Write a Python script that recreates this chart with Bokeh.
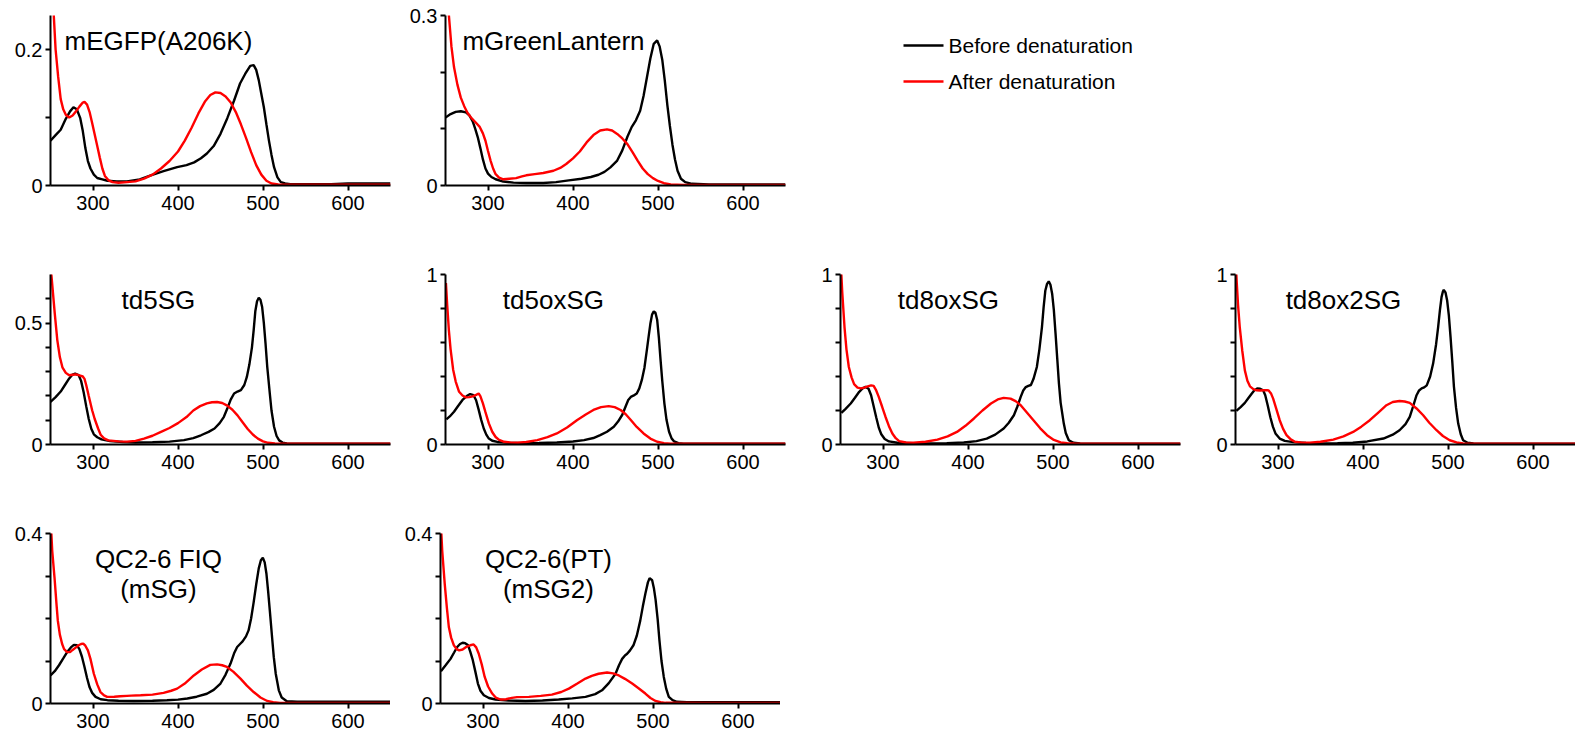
from bokeh.plotting import figure
from bokeh.layouts import row, column
from bokeh.models import Range1d, FixedTicker, Label
from bokeh.embed import file_html
from bokeh.resources import INLINE
from bokeh.core.properties import value

FONT = "Liberation Sans"
BLACK = "#000000"
RED = "#ff0000"

x_ticks = [300, 400, 500, 600]
legend_labels = ["Before denaturation", "After denaturation"]

# ---------------- mEGFP(A206K) ----------------
megfp_before_nm = [250, 256, 262, 268, 273, 277, 281, 285, 288, 291, 294, 297, 301, 305, 311, 317, 328, 340, 355, 368, 383, 399, 410, 419, 427, 434, 442, 450, 458, 466, 473, 479, 485, 489, 492, 495, 498, 501, 504, 507, 510, 513, 517, 521, 526, 532, 545, 560, 580, 600, 615, 630, 650]
megfp_before_abs = [0.066, 0.074, 0.082, 0.098, 0.109, 0.115, 0.112, 0.099, 0.080, 0.055, 0.036, 0.025, 0.016, 0.011, 0.009, 0.007, 0.006, 0.006, 0.009, 0.015, 0.021, 0.027, 0.030, 0.034, 0.040, 0.047, 0.058, 0.076, 0.099, 0.125, 0.150, 0.164, 0.176, 0.177, 0.170, 0.155, 0.135, 0.115, 0.090, 0.066, 0.045, 0.027, 0.012, 0.005, 0.003, 0.002, 0.002, 0.002, 0.002, 0.003, 0.003, 0.003, 0.003]
megfp_after_nm = [250, 253, 256, 259, 262, 265, 268, 272, 276, 280, 284, 288, 290, 293, 296, 299, 302, 305, 308, 311, 314, 318, 323, 330, 340, 350, 360, 370, 380, 390, 400, 408, 416, 424, 432, 438, 444, 450, 456, 462, 468, 474, 480, 486, 492, 498, 504, 510, 518, 530, 560, 600, 650]
megfp_after_abs = [0.40, 0.27, 0.20, 0.160, 0.127, 0.112, 0.104, 0.100, 0.103, 0.109, 0.116, 0.122, 0.123, 0.119, 0.108, 0.092, 0.075, 0.058, 0.041, 0.025, 0.014, 0.008, 0.005, 0.004, 0.005, 0.006, 0.010, 0.016, 0.025, 0.036, 0.050, 0.066, 0.085, 0.106, 0.124, 0.133, 0.137, 0.136, 0.131, 0.122, 0.108, 0.090, 0.070, 0.049, 0.030, 0.016, 0.007, 0.003, 0.0015, 0.001, 0.001, 0.001, 0.001]

# ---------------- mGreenLantern ----------------
mgl_before_nm = [250, 256, 262, 268, 274, 278, 282, 285, 288, 291, 294, 297, 300, 304, 309, 318, 330, 345, 365, 380, 395, 410, 421, 430, 437, 444, 452, 458, 464, 469, 474, 479, 483, 487, 491, 495, 499, 502, 505, 508, 511, 514, 517, 520, 523, 527, 532, 540, 560, 600, 650]
mgl_before_abs = [0.120, 0.126, 0.130, 0.131, 0.129, 0.124, 0.113, 0.100, 0.085, 0.066, 0.046, 0.030, 0.021, 0.015, 0.011, 0.007, 0.005, 0.0045, 0.0045, 0.006, 0.009, 0.012, 0.015, 0.019, 0.024, 0.032, 0.044, 0.062, 0.086, 0.103, 0.115, 0.132, 0.158, 0.191, 0.224, 0.250, 0.256, 0.245, 0.222, 0.185, 0.142, 0.105, 0.072, 0.046, 0.026, 0.012, 0.006, 0.003, 0.002, 0.002, 0.002]
mgl_after_nm = [251, 254, 257, 260, 264, 268, 272, 276, 280, 285, 290, 294, 297, 300, 303, 306, 309, 313, 318, 325, 333, 340, 345, 355, 365, 377, 385, 392, 400, 408, 416, 424, 432, 440, 446, 452, 458, 464, 470, 476, 482, 488, 494, 500, 507, 515, 530, 560, 600, 650]
mgl_after_abs = [0.42, 0.300, 0.245, 0.209, 0.178, 0.155, 0.140, 0.128, 0.120, 0.112, 0.104, 0.092, 0.079, 0.061, 0.044, 0.030, 0.020, 0.014, 0.011, 0.012, 0.013, 0.016, 0.018, 0.020, 0.022, 0.026, 0.031, 0.038, 0.048, 0.060, 0.076, 0.089, 0.097, 0.099, 0.097, 0.091, 0.083, 0.073, 0.059, 0.044, 0.030, 0.020, 0.013, 0.008, 0.004, 0.002, 0.001, 0.001, 0.001, 0.001]

# ---------------- td5SG ----------------
td5_before_nm = [250, 256, 262, 267, 272, 276, 279, 283, 286, 289, 292, 295, 298, 301, 305, 310, 320, 335, 350, 370, 390, 407, 418, 427, 436, 443, 449, 454, 458, 462, 466, 470, 474, 478, 481, 484, 487, 489, 491, 493, 495, 497, 499, 501, 503, 505, 508, 510, 513, 516, 519, 523, 528, 540, 560, 600, 650]
td5_before_abs = [0.175, 0.195, 0.218, 0.245, 0.272, 0.288, 0.292, 0.286, 0.262, 0.215, 0.158, 0.105, 0.065, 0.042, 0.030, 0.021, 0.014, 0.010, 0.008, 0.009, 0.012, 0.018, 0.026, 0.038, 0.052, 0.066, 0.088, 0.114, 0.148, 0.185, 0.210, 0.218, 0.224, 0.245, 0.278, 0.330, 0.400, 0.470, 0.550, 0.590, 0.604, 0.596, 0.566, 0.500, 0.415, 0.320, 0.210, 0.140, 0.073, 0.035, 0.017, 0.008, 0.004, 0.003, 0.003, 0.003, 0.003]
td5_after_nm = [250.5, 253, 255, 258, 261, 264, 268, 272, 276, 280, 284, 288, 290, 292, 295, 299, 302, 306, 309, 313, 318, 330, 340, 350, 360, 370, 380, 390, 400, 410, 418, 426, 434, 440, 446, 452, 458, 464, 470, 476, 482, 488, 494, 500, 506, 514, 530, 560, 600, 650]
td5_after_abs = [0.72, 0.62, 0.54, 0.43, 0.36, 0.318, 0.295, 0.285, 0.287, 0.289, 0.285, 0.280, 0.270, 0.245, 0.200, 0.141, 0.105, 0.066, 0.040, 0.025, 0.017, 0.013, 0.012, 0.015, 0.024, 0.036, 0.052, 0.068, 0.088, 0.113, 0.140, 0.158, 0.169, 0.174, 0.175, 0.171, 0.160, 0.143, 0.120, 0.092, 0.064, 0.041, 0.024, 0.013, 0.007, 0.004, 0.003, 0.003, 0.003, 0.003]

# ---------------- td5oxSG ----------------
td5ox_before_nm = [251, 255, 260, 265, 270, 275, 279, 283, 286, 289, 292, 295, 298, 301, 305, 311, 325, 342, 360, 381, 400, 413, 424, 432, 440, 448, 453, 458, 462, 465, 468, 471, 475, 478, 481, 484, 487, 489, 491, 493, 495, 497, 499, 501, 503, 505, 507.5, 510, 513, 516, 519, 524, 530, 550, 600, 650]
td5ox_before_abs = [0.148, 0.165, 0.193, 0.228, 0.262, 0.285, 0.297, 0.290, 0.260, 0.205, 0.145, 0.094, 0.058, 0.035, 0.022, 0.015, 0.010, 0.008, 0.009, 0.012, 0.018, 0.026, 0.038, 0.055, 0.075, 0.104, 0.135, 0.175, 0.225, 0.262, 0.280, 0.287, 0.300, 0.330, 0.380, 0.450, 0.560, 0.636, 0.710, 0.764, 0.783, 0.775, 0.734, 0.630, 0.498, 0.375, 0.242, 0.145, 0.075, 0.036, 0.018, 0.008, 0.005, 0.004, 0.004, 0.004]
td5ox_after_nm = [250.5, 252, 254, 256, 259, 262, 266, 270, 274, 278, 282, 286, 289, 291, 294, 297, 301, 305, 309, 313, 319, 327, 335, 345, 358, 370, 381, 393, 405, 415, 424, 433, 442, 449, 456, 462, 468, 475, 483, 491, 499, 507, 515, 530, 560, 600, 650]
td5ox_after_abs = [0.95, 0.82, 0.67, 0.56, 0.44, 0.37, 0.31, 0.288, 0.277, 0.279, 0.283, 0.292, 0.300, 0.285, 0.242, 0.190, 0.124, 0.075, 0.044, 0.027, 0.016, 0.011, 0.010, 0.015, 0.026, 0.043, 0.065, 0.100, 0.144, 0.176, 0.203, 0.220, 0.226, 0.220, 0.203, 0.178, 0.144, 0.103, 0.065, 0.035, 0.016, 0.008, 0.005, 0.004, 0.004, 0.004, 0.004]

# ---------------- td8oxSG ----------------
td8ox_before_nm = [251, 256, 262, 267, 272, 276, 279.5, 283, 286, 289, 292, 295, 298, 302, 307, 317, 335, 356, 375, 395, 410, 422, 432, 442, 448, 454, 458, 462, 465, 468, 471, 474, 477, 481, 484, 487, 489, 491, 493, 495, 497, 499, 501, 503, 505, 507, 509, 512.7, 515, 518.6, 524, 532, 550, 600, 650]
td8ox_before_abs = [0.186, 0.210, 0.241, 0.275, 0.310, 0.330, 0.339, 0.328, 0.290, 0.225, 0.160, 0.100, 0.060, 0.032, 0.018, 0.010, 0.007, 0.006, 0.008, 0.012, 0.020, 0.035, 0.058, 0.094, 0.128, 0.172, 0.222, 0.280, 0.318, 0.338, 0.345, 0.350, 0.385, 0.456, 0.560, 0.691, 0.810, 0.906, 0.945, 0.960, 0.940, 0.887, 0.790, 0.652, 0.505, 0.358, 0.245, 0.123, 0.068, 0.025, 0.010, 0.006, 0.004, 0.004, 0.004]
td8ox_after_nm = [250.5, 252, 254.7, 257, 259.8, 263, 266, 270, 274, 278, 282, 286, 289, 292, 295, 299, 303, 307, 311, 315, 319, 327, 336, 350, 364, 376, 387, 397, 407, 417, 427, 435, 442, 450, 456, 462, 469, 477, 485, 493, 501, 509, 517, 525, 560, 600, 650]
td8ox_after_abs = [1.05, 0.90, 0.691, 0.56, 0.456, 0.395, 0.355, 0.335, 0.330, 0.335, 0.342, 0.348, 0.345, 0.318, 0.280, 0.222, 0.162, 0.108, 0.065, 0.037, 0.020, 0.012, 0.010, 0.016, 0.029, 0.048, 0.074, 0.110, 0.153, 0.200, 0.241, 0.265, 0.274, 0.270, 0.255, 0.231, 0.190, 0.143, 0.095, 0.055, 0.027, 0.012, 0.007, 0.006, 0.004, 0.004, 0.004]

# ---------------- td8ox2SG ----------------
td8ox2_before_nm = [251, 256, 261, 265, 269, 272, 275.5, 279, 282.5, 285, 288, 291, 294, 297, 302, 308, 318, 333, 349, 370, 388, 405, 424, 435, 443, 450, 455, 459, 463, 466, 469, 472, 475, 479, 482.5, 486, 488.4, 490.5, 492.4, 494, 495, 497, 499, 501, 503, 505, 507, 509.5, 512, 515, 517.8, 523, 530, 550, 600, 650]
td8ox2_before_abs = [0.198, 0.220, 0.245, 0.272, 0.299, 0.318, 0.329, 0.328, 0.319, 0.290, 0.228, 0.160, 0.105, 0.065, 0.035, 0.021, 0.014, 0.009, 0.006, 0.008, 0.010, 0.018, 0.035, 0.058, 0.084, 0.120, 0.162, 0.225, 0.290, 0.318, 0.330, 0.336, 0.348, 0.400, 0.476, 0.590, 0.691, 0.790, 0.867, 0.900, 0.910, 0.895, 0.847, 0.760, 0.632, 0.490, 0.339, 0.215, 0.123, 0.060, 0.025, 0.010, 0.006, 0.004, 0.004, 0.004]
td8ox2_after_nm = [250.5, 251.5, 253, 255, 258, 261, 264, 267, 271, 275, 279, 283, 287, 289, 292, 294.3, 298, 302, 306, 310, 315, 320, 328, 337.5, 350, 365, 377, 388.4, 398, 408, 418, 427.6, 435, 443, 449, 455, 463, 470.8, 478, 486.5, 494, 502, 510, 517.8, 530, 560, 600, 650]
td8ox2_after_abs = [1.05, 0.95, 0.82, 0.691, 0.55, 0.436, 0.375, 0.342, 0.326, 0.319, 0.318, 0.319, 0.320, 0.318, 0.298, 0.270, 0.210, 0.143, 0.092, 0.055, 0.030, 0.016, 0.011, 0.010, 0.016, 0.029, 0.048, 0.074, 0.105, 0.143, 0.188, 0.231, 0.250, 0.256, 0.253, 0.245, 0.212, 0.172, 0.128, 0.084, 0.050, 0.025, 0.012, 0.006, 0.005, 0.004, 0.004, 0.004]

# ---------------- QC2-6 FIQ (mSG) ----------------
msg_before_nm = [250, 255, 260, 265, 269.6, 274, 277.5, 281, 284, 287, 290, 293, 296, 299, 303, 309, 317, 330, 348, 370, 387, 400, 411, 422, 434, 442, 450, 456, 461.8, 466, 469.6, 473, 476, 480, 483, 486, 489, 492, 495, 497.5, 499.8, 502, 504, 506, 508, 510.5, 512.7, 515, 518.6, 522, 528, 540, 560, 600, 650]
msg_before_abs = [0.066, 0.076, 0.090, 0.106, 0.121, 0.132, 0.138, 0.137, 0.128, 0.110, 0.086, 0.060, 0.038, 0.025, 0.0156, 0.010, 0.0078, 0.0065, 0.006, 0.0065, 0.0078, 0.009, 0.0117, 0.016, 0.023, 0.032, 0.047, 0.068, 0.094, 0.118, 0.133, 0.140, 0.146, 0.158, 0.172, 0.200, 0.238, 0.280, 0.318, 0.337, 0.343, 0.332, 0.306, 0.265, 0.219, 0.160, 0.109, 0.070, 0.031, 0.014, 0.0055, 0.004, 0.004, 0.004, 0.004]
msg_after_nm = [250.5, 252, 254.7, 257, 258.6, 261, 263.7, 266, 269.6, 273, 276, 280, 283, 286, 288.5, 291, 294, 297, 301, 305, 308.8, 313, 316.7, 325, 332, 340, 345, 356, 370, 383, 392, 399, 408, 418.6, 428, 438, 446, 452, 457.6, 465, 473.5, 481, 489, 497, 505, 512, 520, 560, 600, 650]
msg_after_abs = [0.42, 0.36, 0.297, 0.235, 0.195, 0.162, 0.140, 0.128, 0.121, 0.121, 0.126, 0.132, 0.137, 0.140, 0.141, 0.136, 0.125, 0.105, 0.070, 0.045, 0.027, 0.019, 0.0156, 0.016, 0.017, 0.018, 0.0185, 0.0195, 0.021, 0.025, 0.030, 0.035, 0.047, 0.066, 0.080, 0.091, 0.092, 0.090, 0.086, 0.075, 0.0586, 0.042, 0.027, 0.014, 0.006, 0.003, 0.0015, 0.0015, 0.0015, 0.0015]

# ---------------- QC2-6(PT) (mSG2) ----------------
msg2_before_nm = [250.5, 256, 261.8, 266, 269.6, 273, 276, 279, 282.5, 285, 288, 291, 294, 297, 301, 307, 314.7, 330, 350, 370, 389, 405, 420.6, 432, 440, 448, 455.9, 460, 463.7, 467, 469.6, 473, 477, 481, 485, 488, 491, 494, 496, 499, 501, 503, 505.5, 507.6, 510, 512.7, 515.5, 518.6, 523, 528, 540, 600, 650]
msg2_before_abs = [0.076, 0.090, 0.105, 0.120, 0.133, 0.140, 0.143, 0.142, 0.137, 0.122, 0.102, 0.075, 0.047, 0.030, 0.0195, 0.013, 0.0094, 0.007, 0.006, 0.007, 0.0094, 0.012, 0.0156, 0.022, 0.031, 0.048, 0.070, 0.090, 0.105, 0.113, 0.117, 0.125, 0.137, 0.160, 0.195, 0.228, 0.258, 0.285, 0.295, 0.290, 0.272, 0.245, 0.198, 0.148, 0.100, 0.0625, 0.035, 0.0156, 0.008, 0.004, 0.003, 0.003, 0.003]
msg2_after_nm = [250.5, 252, 255, 257.5, 259.8, 262.5, 265.7, 269, 272, 276, 281, 285, 289, 292, 295, 298.5, 302, 306, 310.8, 315, 320.6, 327, 334, 340, 354, 368, 381, 392, 401, 411, 420.6, 428, 436, 446, 453, 459.8, 467, 475.5, 483, 491, 497, 503, 509, 514.7, 560, 600, 650]
msg2_after_abs = [0.42, 0.36, 0.281, 0.225, 0.180, 0.155, 0.137, 0.128, 0.125, 0.127, 0.134, 0.137, 0.139, 0.132, 0.117, 0.092, 0.0625, 0.040, 0.0234, 0.014, 0.0094, 0.010, 0.0133, 0.015, 0.0156, 0.018, 0.021, 0.027, 0.035, 0.047, 0.0586, 0.065, 0.070, 0.073, 0.071, 0.066, 0.058, 0.047, 0.036, 0.0234, 0.013, 0.006, 0.003, 0.0016, 0.0015, 0.0015, 0.0015]

# panel specs: title lines, y max, y ticks, labelled y ticks
panels = [
    (["mEGFP(A206K)"], 0.25, [0, 0.1, 0.2], {0: "0", 0.2: "0.2"}, (megfp_before_nm, megfp_before_abs), (megfp_after_nm, megfp_after_abs)),
    (["mGreenLantern"], 0.3, [0, 0.1, 0.2, 0.3], {0: "0", 0.3: "0.3"}, (mgl_before_nm, mgl_before_abs), (mgl_after_nm, mgl_after_abs)),
    (["td5SG"], 0.7, [0, 0.1, 0.2, 0.3, 0.4, 0.5, 0.6], {0: "0", 0.5: "0.5"}, (td5_before_nm, td5_before_abs), (td5_after_nm, td5_after_abs)),
    (["td5oxSG"], 1.0, [0, 0.2, 0.4, 0.6, 0.8, 1], {0: "0", 1: "1"}, (td5ox_before_nm, td5ox_before_abs), (td5ox_after_nm, td5ox_after_abs)),
    (["td8oxSG"], 1.0, [0, 0.2, 0.4, 0.6, 0.8, 1], {0: "0", 1: "1"}, (td8ox_before_nm, td8ox_before_abs), (td8ox_after_nm, td8ox_after_abs)),
    (["td8ox2SG"], 1.0, [0, 0.2, 0.4, 0.6, 0.8, 1], {0: "0", 1: "1"}, (td8ox2_before_nm, td8ox2_before_abs), (td8ox2_after_nm, td8ox2_after_abs)),
    (["QC2-6 FIQ", "(mSG)"], 0.4, [0, 0.1, 0.2, 0.3, 0.4], {0: "0", 0.4: "0.4"}, (msg_before_nm, msg_before_abs), (msg_after_nm, msg_after_abs)),
    (["QC2-6(PT)", "(mSG2)"], 0.4, [0, 0.1, 0.2, 0.3, 0.4], {0: "0", 0.4: "0.4"}, (msg2_before_nm, msg2_before_abs), (msg2_after_nm, msg2_after_abs)),
]

FRAME_W, FRAME_H = 340, 170
LEFT, TOP = 50, 15
TITLE_DROP = 25   # px from frame top to the first title line


def style_axis(ax, standoff):
    ax.axis_line_color = BLACK
    ax.axis_line_width = 2
    ax.major_tick_line_color = BLACK
    ax.major_tick_line_width = 2
    ax.major_tick_out = 5
    ax.major_tick_in = 0
    ax.minor_tick_line_color = None
    ax.major_label_text_font = FONT
    ax.major_label_text_font_size = "20px"
    ax.major_label_text_color = BLACK
    ax.major_label_standoff = standoff


def base_figure(width, height, xr, yr):
    p = figure(width=width, height=height, x_range=xr, y_range=yr,
               output_backend="svg", toolbar_location=None,
               min_border_left=LEFT, min_border_right=width - LEFT - FRAME_W,
               min_border_top=TOP, min_border_bottom=height - TOP - FRAME_H)
    p.grid.visible = False
    p.outline_line_color = None
    p.background_fill_color = "white"
    p.border_fill_color = "white"
    return p


def make_panel(spec, width, height):
    titles, ymax, yticks, ylabels, before, after = spec
    p = base_figure(width, height, Range1d(250, 650), Range1d(0, ymax))
    p.xaxis.ticker = FixedTicker(ticks=x_ticks)
    p.yaxis.ticker = FixedTicker(ticks=yticks)
    p.yaxis.major_label_overrides = {t: ylabels.get(t, "") for t in yticks}
    style_axis(p.xaxis[0], 5)
    style_axis(p.yaxis[0], 3)
    p.line(before[0], before[1], line_color=BLACK, line_width=2.4)
    p.line(after[0], after[1], line_color=RED, line_width=2.4)
    for i, t in enumerate(titles):
        frac = (FRAME_H - TITLE_DROP - 30 * i) / FRAME_H
        p.add_layout(Label(x=377, y=ymax * frac, text=t, text_font=FONT, text_font_size="26px",
                           text_color=BLACK, text_align="center", text_baseline="alphabetic"))
    return p


figs = []
for k, spec in enumerate(panels):
    if k < 5:
        w = 395
    else:
        w = LEFT + FRAME_W
    h = 259 if k < 6 else 222
    figs.append(make_panel(spec, w, h))

# legend panel: ranges in pixels of this panel's frame (y measured downward)
leg = base_figure(395, 259, Range1d(0, FRAME_W), Range1d(FRAME_H, 0))
leg.xaxis.visible = False
leg.yaxis.visible = False
leg_y_line = [30, 66]
leg_y_text = [30, 66]
leg.segment(x0=[63, 63], x1=[103, 103], y0=leg_y_line, y1=leg_y_line,
            line_color=[BLACK, RED], line_width=2.4)
leg.text(x=[108, 108], y=leg_y_text, text=legend_labels, text_font=value(FONT),
         text_font_size="21px", text_color=BLACK, text_baseline="alphabetic", text_align="left")

layout = column(row(figs[0], figs[1], leg), row(figs[2], figs[3], figs[4], figs[5]), row(figs[6], figs[7]))

open("out.html", "w").write(file_html(layout, INLINE))
